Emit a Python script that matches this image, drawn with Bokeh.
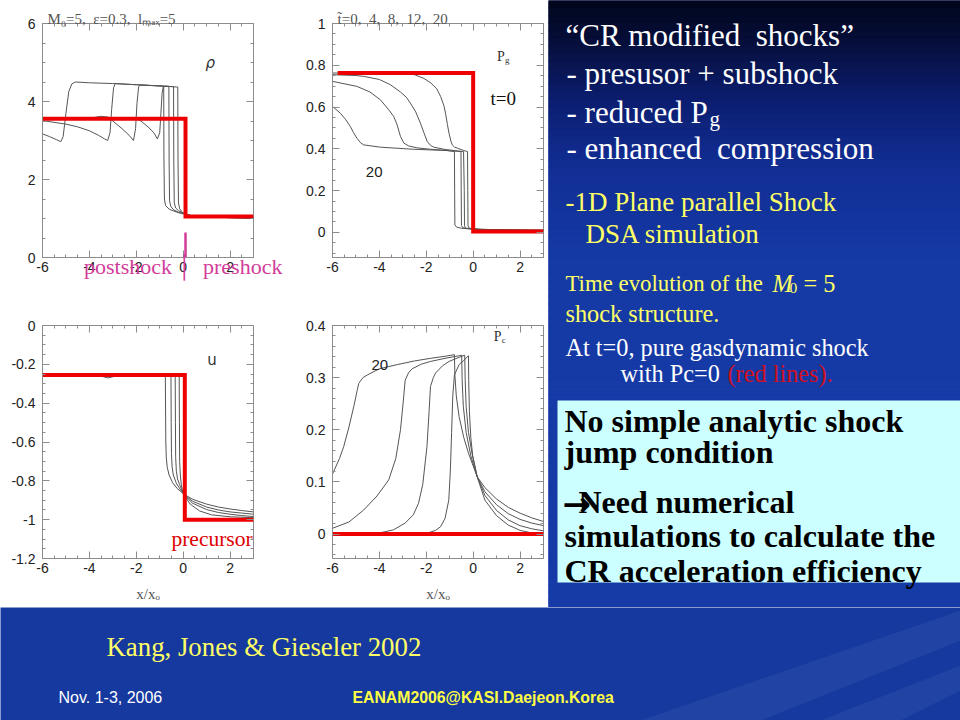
import numpy as np
from bokeh.plotting import figure
from bokeh.models import Range1d, FixedTicker, LinearAxis, Label
from bokeh.layouts import row, column
from bokeh.embed import file_html
from bokeh.resources import INLINE
from bokeh.core.properties import value

# ---------------- data ----------------
X_TICKS = [-6, -4, -2, 0, 2]
X_TICK_LABELS = ["-6", "-4", "-2", "0", "2"]
RHO_TICKS = [0, 2, 4, 6]
RHO_TICK_LABELS = ["0", "2", "4", "6"]
PG_TICKS = [0, 0.2, 0.4, 0.6, 0.8, 1]
PG_TICK_LABELS = ["0", "0.2", "0.4", "0.6", "0.8", "1"]
U_TICKS = [-1.2, -1, -0.8, -0.6, -0.4, -0.2, 0]
U_TICK_LABELS = ["-1.2", "-1", "-0.8", "-0.6", "-0.4", "-0.2", "0"]
PC_TICKS = [0, 0.1, 0.2, 0.3, 0.4]
PC_TICK_LABELS = ["0", "0.1", "0.2", "0.3", "0.4"]

# density rho, times 4, 8, 12, 20
rho_x_t4 = [-6, -2.5, -2.0, -1.8, -1.5, -1.25, -1.1, -1.0, -0.95, -0.9, -0.85, -0.7, -0.23, -0.22, -0.2, -0.15, -0.05, 0.0, 0.3, 0.7, 1.5, 3.0]
rho_y_t4 = [3.56, 3.56, 3.55, 3.5, 3.35, 3.2, 3.04, 3.2, 3.7, 4.2, 4.38, 4.39, 4.37, 2.5, 1.4, 1.25, 1.17, 1.14, 1.08, 1.05, 1.03, 1.01]
rho_x_t8 = [-6, -4.0, -3.5, -3.2, -2.9, -2.6, -2.3, -2.12, -2.03, -1.97, -1.9, -1.82, -1.0, -0.41, -0.4, -0.38, -0.32, -0.2, 0.0, 0.3, 0.7, 1.5, 3.0]
rho_y_t8 = [3.56, 3.57, 3.62, 3.6, 3.45, 3.3, 3.13, 3.0, 3.3, 3.95, 4.38, 4.42, 4.4, 4.38, 2.5, 1.4, 1.27, 1.2, 1.14, 1.08, 1.05, 1.03, 1.01]
rho_x_t12 = [-6, -5.0, -4.5, -4.0, -3.6, -3.35, -3.22, -3.12, -3.05, -2.97, -2.9, -2.0, -1.0, -0.61, -0.6, -0.58, -0.52, -0.4, -0.2, 0.0, 0.3, 0.7, 1.5, 3.0]
rho_y_t12 = [3.51, 3.42, 3.35, 3.25, 3.13, 3.04, 3.0, 3.2, 3.8, 4.35, 4.46, 4.43, 4.4, 4.39, 2.5, 1.45, 1.3, 1.22, 1.16, 1.13, 1.08, 1.05, 1.03, 1.01]
rho_x_t20 = [-6, -5.7, -5.4, -5.22, -5.12, -5.0, -4.88, -4.75, -4.6, -4.0, -3.0, -2.0, -1.0, -0.83, -0.82, -0.8, -0.75, -0.6, -0.4, -0.2, 0.0, 0.3, 0.7, 1.5, 3.0]
rho_y_t20 = [3.17, 3.1, 3.02, 2.97, 3.1, 3.7, 4.25, 4.45, 4.5, 4.48, 4.46, 4.43, 4.4, 4.39, 2.5, 1.5, 1.33, 1.24, 1.19, 1.15, 1.12, 1.08, 1.05, 1.03, 1.01]
rho_x_t0 = [-6, 0.1, 0.1, 3.0]
rho_y_t0 = [3.56, 3.56, 1.05, 1.05]

# gas pressure Pg
pg_x_t4 = [-6, -3.0, -2.5, -2.1, -1.8, -1.55, -1.39, -1.25, -1.18, -1.1, -1.03, -0.95, -0.89, -0.8, -0.67, -0.4, -0.24, -0.23, -0.22, -0.18, -0.05, 0.3, 1.0, 2.0, 3.0]
pg_y_t4 = [0.763, 0.762, 0.755, 0.737, 0.715, 0.687, 0.651, 0.607, 0.571, 0.517, 0.475, 0.437, 0.419, 0.409, 0.403, 0.392, 0.387, 0.2, 0.032, 0.022, 0.017, 0.014, 0.012, 0.011, 0.01]
pg_x_t8 = [-6, -5.0, -4.67, -4.0, -3.53, -3.1, -2.85, -2.68, -2.45, -2.25, -2.1, -1.96, -1.82, -1.68, -1.2, -0.41, -0.38, -0.37, -0.33, -0.2, 0.3, 1.0, 2.0, 3.0]
pg_y_t8 = [0.755, 0.751, 0.747, 0.732, 0.707, 0.672, 0.647, 0.619, 0.577, 0.523, 0.477, 0.435, 0.417, 0.408, 0.397, 0.387, 0.2, 0.032, 0.022, 0.018, 0.014, 0.012, 0.011, 0.01]
pg_x_t12 = [-6, -4.96, -4.4, -3.96, -3.6, -3.39, -3.25, -3.1, -2.95, -2.75, -2.4, -1.82, -1.0, -0.52, -0.51, -0.5, -0.45, -0.3, 0.3, 1.0, 2.0, 3.0]
pg_y_t12 = [0.723, 0.699, 0.672, 0.635, 0.587, 0.555, 0.517, 0.459, 0.427, 0.414, 0.405, 0.398, 0.391, 0.387, 0.2, 0.033, 0.023, 0.019, 0.015, 0.013, 0.011, 0.01]
pg_x_t20 = [-6, -5.67, -5.45, -5.24, -5.1, -4.96, -4.8, -4.67, -3.96, -2.54, -1.12, -0.8, -0.79, -0.78, -0.7, -0.5, 0.0, 1.0, 2.0, 3.0]
pg_y_t20 = [0.603, 0.571, 0.542, 0.507, 0.477, 0.451, 0.429, 0.419, 0.408, 0.398, 0.392, 0.387, 0.2, 0.036, 0.025, 0.02, 0.016, 0.013, 0.011, 0.01]
pg_x_t0 = [-5.78, 0.0, 0.0, 3.0]
pg_y_t0 = [0.763, 0.763, 0.005, 0.005]

# velocity u
u_x_t4 = [-6, -0.17, -0.16, -0.15, -0.12, -0.08, -0.02, 0.05, 0.3, 0.7, 1.2, 2.0, 3.0]
u_y_t4 = [-0.258, -0.258, -0.5, -0.7, -0.77, -0.82, -0.855, -0.876, -0.92, -0.955, -0.975, -0.985, -0.99]
u_x_t8 = [-6, -0.34, -0.33, -0.32, -0.29, -0.24, -0.15, -0.05, 0.05, 0.4, 1.0, 1.5, 2.0, 2.5, 3.0]
u_y_t8 = [-0.258, -0.258, -0.5, -0.68, -0.75, -0.79, -0.82, -0.85, -0.874, -0.915, -0.948, -0.963, -0.972, -0.979, -0.984]
u_x_t12 = [-6, -0.52, -0.51, -0.5, -0.47, -0.42, -0.3, -0.15, 0.05, 0.4, 1.0, 1.5, 2.0, 2.5, 3.0]
u_y_t12 = [-0.258, -0.258, -0.5, -0.66, -0.73, -0.77, -0.81, -0.84, -0.872, -0.905, -0.935, -0.95, -0.96, -0.966, -0.972]
u_x_t20 = [-6, -3.6, -3.2, -2.8, -0.76, -0.75, -0.74, -0.72, -0.68, -0.6, -0.45, -0.25, 0.05, 0.4, 1.0, 1.5, 2.0, 2.5, 3.0]
u_y_t20 = [-0.258, -0.258, -0.27, -0.258, -0.258, -0.45, -0.6, -0.68, -0.73, -0.77, -0.81, -0.84, -0.87, -0.895, -0.92, -0.935, -0.945, -0.953, -0.96]
u_x_t0 = [-6, 0.07, 0.07, 3.0]
u_y_t0 = [-0.255, -0.255, -1.0, -1.0]

# cosmic-ray pressure Pc
pc_x_t4 = [-6, -2.6, -2.0, -1.6, -1.39, -1.2, -1.04, -0.97, -0.92, -0.87, -0.8, -0.6, -0.4, -0.2, -0.19, -0.16, -0.1, -0.02, 0.17, 0.5, 1.0, 1.5, 2.0, 2.5, 3.0]
pc_y_t4 = [0.0, 0.0, 0.001, 0.007, 0.014, 0.03, 0.065, 0.125, 0.195, 0.265, 0.305, 0.325, 0.333, 0.342, 0.295, 0.235, 0.185, 0.15, 0.11, 0.065, 0.035, 0.017, 0.007, 0.002, 0.0]
pc_x_t8 = [-6, -4.3, -4.0, -3.4, -2.9, -2.55, -2.33, -2.15, -1.97, -1.88, -1.82, -1.7, -1.6, -1.3, -1.03, -0.6, -0.36, -0.34, -0.3, -0.2, -0.05, 0.17, 0.5, 1.0, 1.5, 2.0, 2.5, 3.0]
pc_y_t8 = [0.0, 0.0, 0.002, 0.008, 0.021, 0.037, 0.059, 0.095, 0.168, 0.235, 0.283, 0.3, 0.309, 0.323, 0.331, 0.339, 0.343, 0.295, 0.245, 0.195, 0.155, 0.11, 0.074, 0.045, 0.027, 0.016, 0.01, 0.006]
pc_x_t12 = [-6, -5.3, -4.67, -4.1, -3.6, -3.3, -3.1, -2.98, -2.9, -2.75, -2.6, -2.2, -1.82, -1.2, -0.6, -0.49, -0.47, -0.42, -0.3, -0.1, 0.17, 0.5, 1.0, 1.5, 2.0, 2.5, 3.0]
pc_y_t12 = [0.011, 0.023, 0.046, 0.073, 0.104, 0.145, 0.2, 0.255, 0.295, 0.31, 0.317, 0.326, 0.331, 0.337, 0.342, 0.343, 0.295, 0.245, 0.195, 0.15, 0.11, 0.081, 0.056, 0.039, 0.028, 0.021, 0.016]
pc_x_t20 = [-6, -5.7, -5.52, -5.3, -5.09, -4.95, -4.88, -4.7, -4.52, -4.0, -3.24, -2.5, -1.82, -1.2, -0.8, -0.78, -0.72, -0.6, -0.4, -0.2, 0.17, 0.5, 1.0, 1.5, 2.0, 2.5, 3.0]
pc_y_t20 = [0.115, 0.145, 0.168, 0.205, 0.245, 0.275, 0.289, 0.3, 0.305, 0.317, 0.325, 0.332, 0.337, 0.341, 0.344, 0.305, 0.265, 0.225, 0.185, 0.155, 0.11, 0.089, 0.067, 0.051, 0.04, 0.031, 0.024]
pc_x_t0 = [-6, 3.0]
pc_y_t0 = [0.0, 0.0]

# shock marker between the postshock / preshock labels
shock_mark_x = [0.1]
shock_mark_y0 = [0.0]
shock_mark_y1 = [0.64]

# ---------------- styling ----------------
GRAY_FRAME = "#8c8c8c"
CURVE = "#555555"
RED = "#ee0000"
PINK = "#d23c9a"


def style_axis(ax, label_size="14px", standoff=6, show_labels=True):
    ax.axis_line_color = GRAY_FRAME
    ax.major_tick_in = 7
    ax.major_tick_out = 0
    ax.minor_tick_in = 3
    ax.minor_tick_out = 0
    ax.major_tick_line_color = GRAY_FRAME
    ax.minor_tick_line_color = GRAY_FRAME
    ax.major_label_text_font = "Liberation Sans"
    ax.major_label_text_color = "#222222"
    ax.major_label_standoff = standoff
    if show_labels:
        ax.major_label_text_font_size = label_size
    else:
        ax.major_label_text_font_size = "0px"
        ax.major_label_standoff = 0
        ax.axis_line_color = None


def make_panel(w, h, bl, br, bt, bb, yr, yticks, ylabels, yminor, title=None):
    p = figure(width=w, height=h, x_range=Range1d(-6, 3), y_range=Range1d(*yr),
               min_border_left=bl, min_border_right=br, min_border_top=bt, min_border_bottom=bb,
               toolbar_location=None, output_backend="svg",
               background_fill_color="white", border_fill_color="white")
    p.grid.visible = False
    p.outline_line_color = GRAY_FRAME
    xminor = [float(v) for v in np.arange(-6, 3.001, 0.5)]
    xt = FixedTicker(ticks=X_TICKS, minor_ticks=xminor)
    yt = FixedTicker(ticks=yticks, minor_ticks=yminor)
    bottom_ax = p.below[0]
    left_ax = p.left[0]
    bottom_ax.ticker = xt
    bottom_ax.major_label_overrides = dict(zip(X_TICKS, X_TICK_LABELS))
    style_axis(bottom_ax, standoff=4)
    left_ax.ticker = yt
    left_ax.major_label_overrides = dict(zip(yticks, ylabels))
    style_axis(left_ax, standoff=7)
    top = LinearAxis(ticker=xt)
    style_axis(top, show_labels=False)
    p.add_layout(top, "above")
    right = LinearAxis(ticker=yt)
    style_axis(right, show_labels=False)
    p.add_layout(right, "right")
    if title:
        p.title.text = title
        p.title.align = "left"
        p.title.offset = 5
        p.title.standoff = -6
        p.title.text_font = "Liberation Serif"
        p.title.text_font_size = "15px"
        p.title.text_font_style = "normal"
        p.title.text_color = "#555555"
    return p, bottom_ax


def set_xlabel(ax, text, font, size, color, standoff):
    ax.axis_label = text
    ax.axis_label_text_font = font
    ax.axis_label_text_font_style = "normal"
    ax.axis_label_text_font_size = size
    ax.axis_label_text_color = color
    ax.axis_label_standoff = standoff


def lbl(p, x, y, text, size, font="Liberation Serif", color="#333333", style="normal", xo=0, yo=0):
    p.add_layout(Label(x=x, y=y, text=text, text_font=font, text_font_size=size,
                       text_color=color, text_font_style=style, text_baseline="alphabetic",
                       x_offset=xo, y_offset=yo))


# ---- panel rho ----
p_rho, ax_rho = make_panel(290, 300, 42, 37, 23, 43, (0, 6), RHO_TICKS, RHO_TICK_LABELS,
                           [float(v) for v in np.arange(0, 6.001, 0.5)],
                           title="M\u2080=5,\u00a0 \u03b5=0.3,\u00a0 l\u2098\u2090\u2093=5")
for xs, ys in [(rho_x_t4, rho_y_t4), (rho_x_t8, rho_y_t8), (rho_x_t12, rho_y_t12), (rho_x_t20, rho_y_t20)]:
    p_rho.line(xs, ys, line_color=CURVE, line_width=1)
p_rho.line(rho_x_t0, rho_y_t0, line_color=RED, line_width=4, line_join="miter")
p_rho.segment(x0=shock_mark_x, y0=shock_mark_y0, x1=shock_mark_x, y1=shock_mark_y1,
              line_color=PINK, line_width=2.5)
lbl(p_rho, 0.95, 5.0, "\u03c1", "15px", font="DejaVu Sans", color="#333333", style="italic")
set_xlabel(ax_rho, "\u2003\u2003\u2003\u2009postshock\u2009\u2502\u2002preshock",
           "Liberation Serif", "22px", PINK, -21)

# ---- panel Pg ----
p_pg, ax_pg = make_panel(258, 300, 42, 5, 23, 43, (-0.12, 1.0), PG_TICKS, PG_TICK_LABELS,
                         [float(v) for v in np.arange(-0.1, 1.001, 0.05)],
                         title="t\u0303=0,\u00a0 4,\u00a0 8,\u00a0 12,\u00a0 20")
for xs, ys in [(pg_x_t4, pg_y_t4), (pg_x_t8, pg_y_t8), (pg_x_t12, pg_y_t12), (pg_x_t20, pg_y_t20)]:
    p_pg.line(xs, ys, line_color=CURVE, line_width=1)
p_pg.line(pg_x_t0, pg_y_t0, line_color=RED, line_width=4, line_join="miter")
lbl(p_pg, 1.02, 0.84, "P", "14px", color="#333333")
lbl(p_pg, 1.02, 0.84, "g", "9px", color="#333333", xo=8, yo=-3)
lbl(p_pg, 0.74, 0.643, "t=0", "19px", color="#111111")
lbl(p_pg, -4.58, 0.291, "20", "15px", font="Liberation Sans", color="#222222")

# ---- panel u ----
p_u, ax_u = make_panel(290, 307, 42, 37, 25, 49, (-1.2, 0), U_TICKS, U_TICK_LABELS,
                       [float(v) for v in np.arange(-1.2, 0.001, 0.05)])
set_xlabel(ax_u, "x/x\u2092", "Liberation Serif", "15px", "#555555", 10)
for xs, ys in [(u_x_t4, u_y_t4), (u_x_t8, u_y_t8), (u_x_t12, u_y_t12), (u_x_t20, u_y_t20)]:
    p_u.line(xs, ys, line_color=CURVE, line_width=1)
p_u.line(u_x_t0, u_y_t0, line_color=RED, line_width=4, line_join="miter")
lbl(p_u, 1.03, -0.18, "u", "15px", font="DejaVu Sans", color="#333333")
lbl(p_u, -0.5, -1.098, "precursor", "21.5px", color="#dd0000")

# ---- panel Pc ----
p_pc, ax_pc = make_panel(258, 307, 42, 5, 25, 49, (-0.047, 0.4), PC_TICKS, PC_TICK_LABELS,
                         [float(v) for v in np.arange(-0.04, 0.4001, 0.02)])
set_xlabel(ax_pc, "x/x\u2092", "Liberation Serif", "15px", "#555555", 10)
for xs, ys in [(pc_x_t4, pc_y_t4), (pc_x_t8, pc_y_t8), (pc_x_t12, pc_y_t12), (pc_x_t20, pc_y_t20)]:
    p_pc.line(xs, ys, line_color=CURVE, line_width=1)
p_pc.line(pc_x_t0, pc_y_t0, line_color=RED, line_width=4)
lbl(p_pc, 0.88, 0.378, "P", "14px", color="#333333")
lbl(p_pc, 0.88, 0.378, "c", "9px", color="#333333", xo=8, yo=-3)
lbl(p_pc, -4.34, 0.325, "20", "15px", font="Liberation Sans", color="#222222")


# ---------------- right text block ----------------
def canvas(w, h, xr, yr, bg):
    p = figure(width=w, height=h, x_range=Range1d(*xr), y_range=Range1d(*yr),
               x_axis_type=None, y_axis_type=None, min_border=0,
               toolbar_location=None, output_backend="svg",
               background_fill_color=bg, border_fill_color=bg)
    p.grid.visible = False
    p.outline_line_color = None
    return p


p_right = canvas(412, 607, (548, 960), (607, 0), "#16399f")
stops_y = [0, 40, 100, 170, 260, 607]
stops_c = [(2, 6, 26), (6, 15, 58), (12, 30, 112), (18, 47, 150), (22, 58, 165), (22, 60, 168)]
edges = np.linspace(0, 607, 81)
mids = 0.5 * (edges[:-1] + edges[1:])
cols = []
for m in mids:
    r = np.interp(m, stops_y, [c[0] for c in stops_c])
    g = np.interp(m, stops_y, [c[1] for c in stops_c])
    b = np.interp(m, stops_y, [c[2] for c in stops_c])
    cols.append("#%02x%02x%02x" % (int(r), int(g), int(b)))
p_right.quad(left=548, right=960, top=list(edges[:-1]), bottom=list(edges[1:]),
             fill_color=cols, line_color=cols)
p_right.quad(left=557, right=960, top=400, bottom=582, fill_color="#ccffff", line_color=None)


def txt(p, xs, ys, texts, size, color, font="Liberation Serif", style="normal"):
    p.text(x=xs, y=ys, text=texts, text_font=value(font), text_font_size="%.1fpx" % size,
           text_color=color, text_font_style=style, text_baseline="alphabetic", text_align="left")


txt(p_right, [565, 566, 566, 566], [35, 73, 112, 148],
    ["\u201cCR modified\u00a0 shocks\u201d", "- presusor + subshock", "- reduced P",
     "- enhanced\u00a0 compression"], 31, "white")
txt(p_right, [709], [118], ["g"], 21, "white")
txt(p_right, [565, 585], [201.7, 233], ["-1D Plane parallel Shock", "DSA simulation"], 27, "#ffff66")
txt(p_right, [565], [282.7], ["Time evolution of the"], 22.8, "#ffff66")
txt(p_right, [565], [313.3], ["shock structure."], 24.3, "#ffff66")
txt(p_right, [772], [282.7], ["M"], 24.3, "#ffff66", style="italic")
txt(p_right, [789], [287], ["0"], 15.5, "#ffff66")
txt(p_right, [803], [282.7], ["= 5"], 24.3, "#ffff66")
txt(p_right, [565, 620], [346.7, 373], ["At t=0, pure gasdynamic shock", "with Pc=0"], 24.3, "white")
txt(p_right, [727], [373], ["(red lines)."], 24.3, "#d01020")
txt(p_right, [564, 564, 564, 564], [420, 451.7, 535, 570],
    ["No simple analytic shock", "jump condition", "simulations to calculate the", "CR acceleration efficiency"],
    32, "black", style="bold")
txt(p_right, [562], [503], ["\u2192"], 34, "black", font="DejaVu Sans", style="bold")
txt(p_right, [578], [501.7], ["Need numerical"], 32, "black", style="bold")

# ---------------- footer ----------------
p_foot = canvas(960, 113, (0, 960), (720, 607), "#16399f")
p_foot.patches(xs=[[640, 760, 960, 960], [820, 900, 960, 960]],
               ys=[[720, 720, 640, 610], [720, 720, 690, 665]],
               fill_color="white", fill_alpha=0.05, line_color=None)
txt(p_foot, [106], [646.7], ["Kang, Jones & Gieseler 2002"], 26.8, "#ffff66")
txt(p_foot, [58], [696.7], ["Nov. 1-3, 2006"], 16, "white", font="Liberation Sans")
txt(p_foot, [352], [696.7], ["EANAM2006@KASI.Daejeon.Korea"], 15.8, "#ffff44", font="Liberation Sans", style="bold")

left = column(row(p_rho, p_pg), row(p_u, p_pc))
layout = column(row(left, p_right), p_foot)

open("out.html", "w").write(file_html(layout, INLINE))
